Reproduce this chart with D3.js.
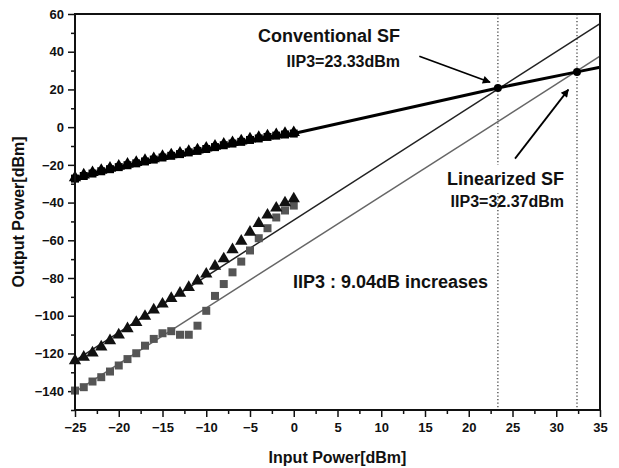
<!DOCTYPE html>
<html>
<head>
<meta charset="utf-8">
<script src="https://cdn.jsdelivr.net/npm/d3@7"></script>
<style>
body{margin:0;background:#fff;}
text{font-family:Arial,"Liberation Sans",sans-serif;font-weight:bold;fill:#111;}
</style>
</head>
<body>
<svg id="iip3Chart" width="619" height="468"></svg>
<script>
// input power points (dBm)
const inputPower = [-25,-24,-23,-22,-21,-20,-19,-18,-17,-16,-15,-14,-13,-12,-11,-10,-9,-8,-7,-6,-5,-4,-3,-2,-1,0];

// fundamental output (both filters overlap)
const fundamental = [-27.3,-25.9,-24.6,-23.4,-22.3,-21.2,-20.2,-19.2,-18.2,-17.2,-16.1,-15.2,-14.3,-13.4,-12.6,-11.6,-10.6,-9.6,-8.7,-7.8,-6.8,-6.0,-5.2,-4.5,-3.9,-3.4];

// IM3 conventional SF (triangles)
const im3Conventional = [-123.8,-122.0,-119.7,-116.5,-113.2,-110.2,-106.9,-103.6,-100.3,-96.9,-93.8,-90.8,-88.0,-85.0,-81.5,-77.9,-73.7,-69.8,-65.0,-60.5,-55.7,-51.0,-46.6,-42.9,-40.1,-38.0];

// IM3 linearized SF (squares)
const im3Linearized = [-139.7,-137.9,-134.9,-132.6,-129.6,-126.4,-123.0,-119.9,-115.9,-112.3,-109.3,-108.2,-110.1,-110.1,-105.3,-97.4,-89.5,-83.2,-77.0,-71.3,-65.4,-58.9,-53.6,-47.9,-44.2,-41.6];

// fitted / extrapolated lines
const fundExtX = [0, 23.33, 32.37, 35];
const fundExtY = [-3.4, 20.8, 29.3, 31.8];
const im3ConvFitX = [-25, 35];
const im3ConvFitY = [-123.8, 54.9];
const im3LinFitX = [-25, 35];
const im3LinFitY = [-140.4, 37.6];

// intercept points
const iip3X = [23.33, 32.37];
const iip3Y = [20.8, 29.3];

const xTicks = [-25,-20,-15,-10,-5,0,5,10,15,20,25,30,35];
const yTicks = [-140,-120,-100,-80,-60,-40,-20,0,20,40,60];

const svg = d3.select("#iip3Chart"),
margin = {top:14,right:19,bottom:58,left:75},
width = +svg.attr("width") - margin.left - margin.right,
height = +svg.attr("height") - margin.top - margin.bottom;

const g = svg.append("g")
.attr("transform",`translate(${margin.left},${margin.top})`);

const x = d3.scaleLinear().domain([-25,35]).range([0,width]);
const y = d3.scaleLinear().domain([-150,60]).range([height,0]);

// minor ticks
const xMinor = d3.range(-25,35.01,2.5).filter(v=>!xTicks.includes(v));
const yMinor = d3.range(-150,60.01,10).filter(v=>!yTicks.includes(v));

g.append("g").attr("transform",`translate(0,${height})`)
.call(d3.axisBottom(x).tickValues(xMinor).tickSize(4).tickFormat(""))
.call(a=>a.select(".domain").remove())
.selectAll("line").attr("stroke","#111").attr("stroke-width",1.5);

g.append("g")
.call(d3.axisLeft(y).tickValues(yMinor).tickSize(4).tickFormat(""))
.call(a=>a.select(".domain").remove())
.selectAll("line").attr("stroke","#111").attr("stroke-width",1.5);

const xAxis = g.append("g").attr("transform",`translate(0,${height})`)
.call(d3.axisBottom(x).tickValues(xTicks).tickSize(7).tickPadding(6).tickFormat(d3.format("d")));
xAxis.select(".domain").remove();
xAxis.selectAll("line").attr("stroke","#111").attr("stroke-width",1.5);
xAxis.selectAll("text").style("font-size","13px").style("font-family","Arial, 'Liberation Sans', sans-serif").style("font-weight","bold").attr("fill","#111");

const yAxis = g.append("g")
.call(d3.axisLeft(y).tickValues(yTicks).tickSize(7).tickPadding(4).tickFormat(d3.format("d")));
yAxis.select(".domain").remove();
yAxis.selectAll("line").attr("stroke","#111").attr("stroke-width",1.5);
yAxis.selectAll("text").style("font-size","13px").style("font-family","Arial, 'Liberation Sans', sans-serif").style("font-weight","bold").attr("fill","#111");

// dotted vertical lines at IIP3
g.selectAll(".iipLine").data(iip3X).enter().append("line")
.attr("x1",d=>x(d)).attr("x2",d=>x(d))
.attr("y1",0).attr("y2",height)
.attr("stroke","#444").attr("stroke-width",1.3)
.attr("stroke-dasharray","1.3,2.2");

const line = d3.line().x(d=>x(d[0])).y(d=>y(d[1]));

// fit lines
g.append("path").datum(d3.zip(im3ConvFitX,im3ConvFitY))
.attr("d",line).attr("fill","none").attr("stroke","#222").attr("stroke-width",1.5);
g.append("path").datum(d3.zip(im3LinFitX,im3LinFitY))
.attr("d",line).attr("fill","none").attr("stroke","#666").attr("stroke-width",1.5);

// fundamental line
g.append("path").datum(d3.zip(inputPower,fundamental))
.attr("d",line).attr("fill","none").attr("stroke","#000").attr("stroke-width",3);
g.append("path").datum(d3.zip(fundExtX,fundExtY))
.attr("d",line).attr("fill","none").attr("stroke","#000").attr("stroke-width",3);

const sq = d3.symbol().type(d3.symbolSquare).size(64);
const tri = d3.symbol().type(d3.symbolTriangle).size(66);

// fundamental markers
g.selectAll(".fundSq").data(d3.zip(inputPower,fundamental)).enter().append("path")
.attr("d",sq).attr("transform",d=>`translate(${x(d[0])},${y(d[1])})`).attr("fill","#000");
g.selectAll(".fundTri").data(d3.zip(inputPower,fundamental)).enter().append("path")
.attr("d",tri).attr("transform",d=>`translate(${x(d[0])},${y(d[1])-1})`).attr("fill","#000");

// IM3 markers
g.selectAll(".linSq").data(d3.zip(inputPower,im3Linearized)).enter().append("path")
.attr("d",sq).attr("transform",d=>`translate(${x(d[0])},${y(d[1])})`).attr("fill","#555");
g.selectAll(".convTri").data(d3.zip(inputPower,im3Conventional)).enter().append("path")
.attr("d",tri).attr("transform",d=>`translate(${x(d[0])},${y(d[1])})`).attr("fill","#111");

// intercept dots
g.selectAll(".iipDot").data(d3.zip(iip3X,iip3Y)).enter().append("circle")
.attr("cx",d=>x(d[0])).attr("cy",d=>y(d[1])).attr("r",4).attr("fill","#000");

// frame
g.append("rect").attr("width",width).attr("height",height)
.attr("fill","none").attr("stroke","#111").attr("stroke-width",2);

// arrows
svg.append("defs").append("marker")
.attr("id","arrowHead").attr("viewBox","0 0 10 10")
.attr("refX",9).attr("refY",5).attr("markerWidth",11).attr("markerHeight",8)
.attr("markerUnits","userSpaceOnUse").attr("orient","auto")
.append("path").attr("d","M0,0L10,5L0,10z").attr("fill","#000");

const arrows = [
 {from:[14.35,37.6], to:[22.43,23.8]},
 {from:[25.29,-16.7], to:[31.38,19.9]}
];
arrows.forEach(a=>{
    g.append("line")
    .attr("x1",x(a.from[0])).attr("y1",y(a.from[1]))
    .attr("x2",x(a.to[0])).attr("y2",y(a.to[1]))
    .attr("stroke","#000").attr("stroke-width",1.8)
    .attr("marker-end","url(#arrowHead)");
});

// annotation text
g.append("text").attr("x",325).attr("y",28).attr("text-anchor","end")
.style("font-size","18px").text("Conventional SF");
g.append("text").attr("x",325).attr("y",53).attr("text-anchor","end")
.style("font-size","16px").text("IIP3=23.33dBm");

const linLabel = g.append("g");
const linText = linLabel.append("text").attr("x",489).attr("y",171).attr("text-anchor","end")
.style("font-size","18px").text("Linearized SF");
const bb = linText.node().getBBox();
linLabel.insert("rect","text")
.attr("x",bb.x-8).attr("y",bb.y-4).attr("width",bb.width+14).attr("height",bb.height+8)
.attr("fill","#fff");
g.append("text").attr("x",489).attr("y",193).attr("text-anchor","end")
.style("font-size","16px").text("IIP3=32.37dBm");

g.append("text").attr("x",218).attr("y",274)
.style("font-size","18px").text("IIP3 : 9.04dB increases");

// axis titles
svg.append("text").attr("x",margin.left + width/2).attr("y",463).attr("text-anchor","middle")
.style("font-size","16px").text("Input Power[dBm]");
svg.append("text").attr("transform",`translate(24,${margin.top+height/2}) rotate(-90)`)
.attr("text-anchor","middle").style("font-size","16px").text("Output Power[dBm]");
</script>
</body>
</html>
